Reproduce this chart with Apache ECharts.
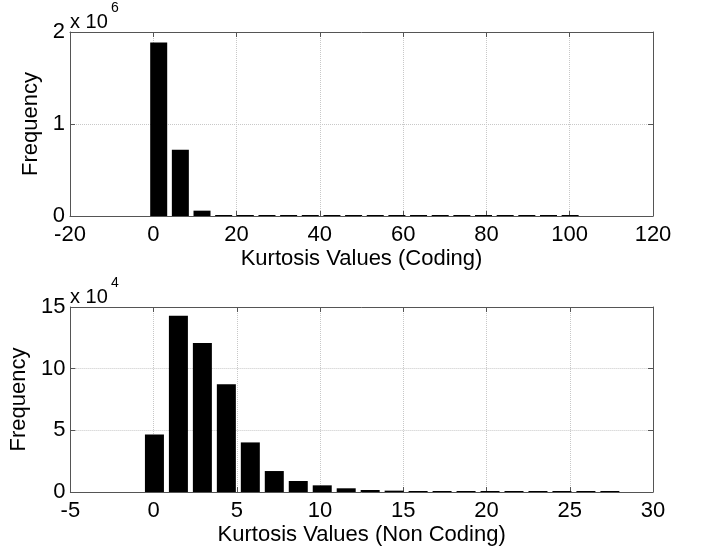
<!DOCTYPE html>
<html>
<head>
<meta charset="utf-8">
<script src="https://cdn.jsdelivr.net/npm/echarts@6/dist/echarts.min.js"></script>
<style>
    html, body { margin: 0; padding: 0; background: #fff; }
    #chart { width: 704px; height: 552px; }
</style>
</head>
<body>
<div id="chart"></div>
<script>
    // 编码区 峰度直方图 (bin centers / counts)
    var codingCenters = [1.3, 6.5, 11.7, 16.9, 22.1, 27.3, 32.5, 37.7, 42.9, 48.1,
        53.3, 58.5, 63.7, 68.9, 74.1, 79.3, 84.5, 89.7, 94.9, 100.1]
    var codingFreq = [1885000, 720000, 58000, 8000, 3000, 1500, 900, 600, 400, 300,
        250, 200, 150, 120, 100, 80, 60, 50, 40, 30]
    var codingXTicks = [-20, 0, 20, 40, 60, 80, 100, 120]
    var codingYTicks = [0, 1, 2]

    // 非编码区
    var nonCodingCenters = [0.05, 1.49, 2.93, 4.37, 5.81, 7.25, 8.69, 10.13, 11.57, 13.01,
        14.45, 15.89, 17.33, 18.77, 20.21, 21.65, 23.09, 24.53, 25.97, 27.41]
    var nonCodingFreq = [46700, 143000, 120900, 87400, 40200, 17000, 8900, 5400, 3000, 1600,
        1100, 800, 500, 400, 300, 200, 150, 100, 100, 80]
    var nonCodingXTicks = [-5, 0, 5, 10, 15, 20, 25, 30]
    var nonCodingYTicks = [0, 5, 10, 15]

    var FONT = 'Liberation Sans'
    var FS = 22
    var axisColor = '#555'

    function pairs(xs, ys) {
        return xs.map(function (x, i) { return [x, ys[i]] })
    }

    function xAxes(grid, ticks, name, nameGap) {
        var min = ticks[0], max = ticks[ticks.length - 1], step = ticks[1] - ticks[0]
        return [{
            type: 'value', gridIndex: grid, position: 'bottom',
            min: min, max: max, interval: step,
            name: name, nameLocation: 'middle', nameGap: nameGap,
            nameTextStyle: { fontFamily: FONT, fontSize: FS, color: '#000' },
            axisLine: { show: true, onZero: false, lineStyle: { color: axisColor } },
            axisTick: { show: true, inside: true, length: 5, lineStyle: { color: axisColor } },
            axisLabel: { fontFamily: FONT, fontSize: FS, color: '#000', margin: 8 },
            splitLine: { show: true, lineStyle: { color: '#c8c8c8', type: 'dotted' } }
        }, {
            type: 'value', gridIndex: grid, position: 'top',
            min: min, max: max, interval: step,
            axisLine: { show: true, onZero: false, lineStyle: { color: axisColor } },
            axisTick: { show: true, inside: true, length: 5, lineStyle: { color: axisColor } },
            axisLabel: { show: false },
            splitLine: { show: false }
        }]
    }

    function yAxes(grid, ticks, scale, nameGap) {
        var min = ticks[0] * scale, max = ticks[ticks.length - 1] * scale
        var step = (ticks[1] - ticks[0]) * scale
        return [{
            type: 'value', gridIndex: grid, position: 'left',
            min: min, max: max, interval: step,
            name: 'Frequency', nameLocation: 'middle', nameGap: nameGap, nameRotate: 90,
            nameTextStyle: { fontFamily: FONT, fontSize: FS, color: '#000' },
            axisLine: { show: true, onZero: false, lineStyle: { color: axisColor } },
            axisTick: { show: true, inside: true, length: 5, lineStyle: { color: axisColor } },
            axisLabel: {
                fontFamily: FONT, fontSize: FS, color: '#000', margin: 5,
                formatter: function (v) { return String(Math.round(v / scale)) }
            },
            splitLine: { show: true, lineStyle: { color: '#c8c8c8', type: 'dotted' } }
        }, {
            type: 'value', gridIndex: grid, position: 'right',
            min: min, max: max, interval: step,
            axisLine: { show: true, onZero: false, lineStyle: { color: axisColor } },
            axisTick: { show: true, inside: true, length: 5, lineStyle: { color: axisColor } },
            axisLabel: { show: false },
            splitLine: { show: false }
        }]
    }

    function titleText(text, left, top, size) {
        return {
            text: text, left: left, top: top, padding: 0,
            textStyle: { fontFamily: FONT, fontSize: size, fontWeight: 'normal', color: '#000' }
        }
    }

    var myChart = echarts.init(document.getElementById('chart'))
    myChart.setOption({
        animation: false,
        title: [
            titleText('x 10', 70, 12, 20),
            titleText('6', 111, 1, 14),
            titleText('x 10', 70, 287, 20),
            titleText('4', 111, 276, 14)
        ],
        grid: [
            { left: 70, right: 51, top: 32, height: 184 },
            { left: 70, right: 51, top: 307, height: 185 }
        ],
        xAxis: xAxes(0, codingXTicks, 'Kurtosis Values (Coding)', 32)
            .concat(xAxes(1, nonCodingXTicks, 'Kurtosis Values (Non Coding)', 32)),
        yAxis: yAxes(0, codingYTicks, 1e6, 25)
            .concat(yAxes(1, nonCodingYTicks, 1e4, 35)),
        series: [{
            name: 'Coding',
            type: 'bar',
            xAxisIndex: 0, yAxisIndex: 0,
            barWidth: 17,
            barMinHeight: 1,
            itemStyle: { color: '#000' },
            data: pairs(codingCenters, codingFreq)
        }, {
            name: 'Non Coding',
            type: 'bar',
            xAxisIndex: 2, yAxisIndex: 2,
            barWidth: 19,
            barMinHeight: 1,
            itemStyle: { color: '#000' },
            data: pairs(nonCodingCenters, nonCodingFreq)
        }]
    })
</script>
</body>
</html>
